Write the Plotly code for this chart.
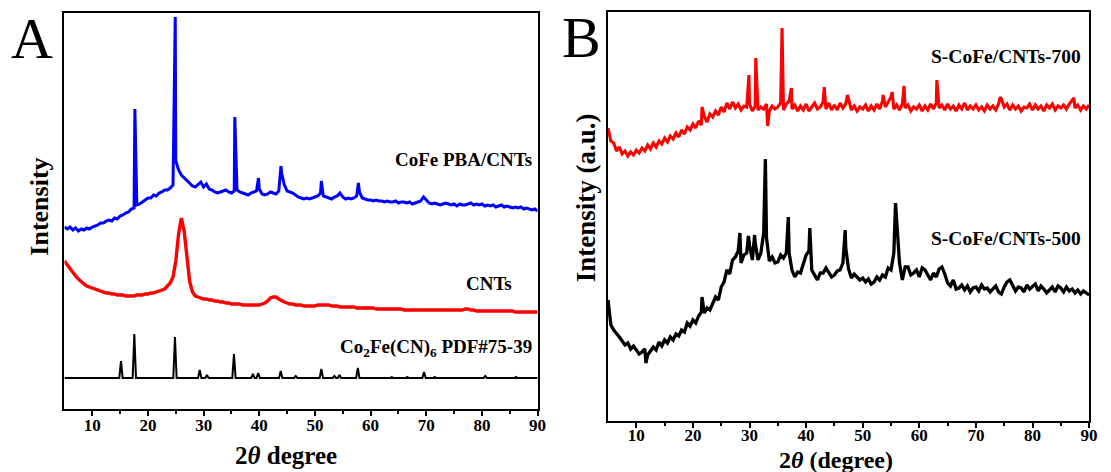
import numpy as np
import plotly.graph_objects as go

W, H = 1111, 472

# Shared 2θ sampling of the measured patterns: 5–90° in 0.5° steps (171 points)
two_theta = np.arange(5.0, 90.01, 0.5)

# ---------------- Panel A (intensities in a.u., curves stacked with offsets) ----------------
# CoFe PBA/CNTs background, one row per 5°
cofe_pba = [
    182, 180, 182, 179, 181, 178, 180, 179, 181, 180,
    182, 183, 184, 186, 186, 188, 189, 188, 191, 190,
    193, 194, 196, 197, 200, 201, 204, 205, 207, 209,
    211, 211, 214, 213, 216, 217, 219, 219, 221, 224,
    248, 239, 234, 231, 229, 226, 223, 222, 225, 227,
    222, 225, 220, 219, 217, 216, 217, 218, 219, 217,
    216, 218, 219, 217, 216, 215, 214, 216, 217, 218,
    220, 215, 214, 215, 217, 216, 215, 218, 236, 224,
    218, 217, 216, 214, 212, 211, 210, 211, 210, 211,
    212, 213, 216, 213, 212, 211, 210, 212, 213, 216,
    212, 210, 211, 210, 211, 213, 217, 211, 210, 209,
    209, 208, 209, 208, 208, 207, 208, 207, 207, 208,
    206, 207, 207, 206, 207, 205, 206, 207, 208, 212,
    209, 206, 205, 206, 205, 204, 205, 206, 205, 204,
    205, 203, 205, 204, 204, 205, 206, 204, 205, 204,
    205, 203, 204, 203, 204, 202, 203, 204, 202, 203,
    202, 201, 202, 201, 202, 200, 201, 200, 199, 200,
    198,
]
cofe_pba_peak_x = [17.65, 24.9, 35.6, 39.85, 43.9, 51.15, 57.8]
cofe_pba_peak_y = [300, 392, 292, 231, 243, 228, 226]

# CNTs
cnts = [
    148, 144, 140, 136, 133, 130, 127, 125, 123, 122,
    121, 120, 119, 118, 117, 116, 116, 115, 115, 114,
    114, 114, 113, 113, 113, 113, 114, 114, 114, 115,
    115, 116, 116, 117, 118, 119, 120, 123, 126, 132,
    148, 175, 191, 178, 148, 127, 117, 113, 112, 111,
    110, 110, 109, 109, 108, 108, 107, 107, 106, 106,
    105, 105, 105, 105, 104, 104, 104, 104, 104, 104,
    104, 105, 106, 108, 111, 112, 112, 110, 108, 107,
    106, 105, 105, 104, 104, 104, 103, 103, 103, 103,
    103, 104, 104, 104, 104, 104, 103, 103, 103, 102,
    102, 102, 102, 102, 102, 101, 101, 101, 101, 101,
    101, 101, 100, 100, 100, 100, 100, 100, 100, 100,
    100, 100, 99, 99, 99, 99, 99, 99, 99, 99,
    99, 99, 99, 99, 99, 99, 99, 99, 99, 99,
    99, 99, 99, 99, 100, 100, 99, 99, 98, 98,
    98, 98, 98, 98, 98, 98, 98, 98, 98, 98,
    98, 98, 97, 97, 97, 97, 97, 97, 97, 97,
    97,
]

# Co2Fe(CN)6 standard pattern, PDF#75-39 (peak positions and intensities)
ref_peak_pos = [15.15, 17.55, 24.85, 29.3, 30.6, 35.45, 38.85, 39.8, 43.85, 46.55,
                51.15, 53.5, 54.4, 57.7, 63.8, 66.6, 69.6, 71.5, 80.6, 86.1]
ref_peak_int = [48, 75, 72, 39, 34, 55, 35, 36, 38, 33,
                40, 33, 34, 41, 32, 32, 37, 32, 33, 32]
ref_baseline = 31

# ---------------- Panel B ----------------
s_cofe_700 = [
    285, 272, 270, 262, 266, 259, 262, 257, 261, 258,
    263, 260, 265, 262, 268, 264, 270, 266, 272, 269,
    275, 271, 277, 274, 280, 276, 283, 279, 286, 283,
    289, 285, 292, 288, 297, 291, 299, 296, 302, 298,
    306, 301, 310, 304, 311, 305, 309, 303, 307, 306,
    309, 302, 307, 303, 306, 304, 309, 302, 307, 304,
    306, 310, 303, 309, 312, 304, 308, 302, 307, 303,
    309, 302, 306, 310, 304, 306, 311, 304, 310, 303,
    308, 303, 310, 305, 309, 314, 303, 307, 302, 306,
    304, 308, 302, 307, 303, 309, 304, 312, 306, 311,
    316, 304, 308, 303, 309, 305, 308, 302, 306, 304,
    308, 302, 307, 303, 309, 304, 310, 305, 308, 303,
    309, 304, 307, 302, 308, 304, 310, 303, 307, 304,
    308, 303, 306, 302, 308, 304, 307, 303, 309, 314,
    306, 309, 303, 308, 304, 307, 302, 306, 305, 309,
    303, 308, 304, 307, 302, 308, 305, 309, 303, 307,
    305, 308, 304, 309, 313, 305, 308, 303, 307, 304,
    308,
]
s_cofe_700_peak_x = [21.6, 29.9, 31.1, 33.2, 35.75, 37.4, 43.2, 47.3, 53.6, 55.2, 57.3, 63.1, 74.3, 87.3]
s_cofe_700_peak_y = [306, 338, 355, 287, 385, 325, 326, 318, 318, 321, 327, 333, 316, 315]

s_cofe_500 = [
    113, 88, 83, 80, 76, 72, 68, 70, 64, 67,
    63, 59, 61, 64, 58, 62, 66, 63, 71, 67,
    73, 70, 76, 73, 79, 77, 83, 81, 90, 87,
    93, 90, 97, 101, 100, 105, 103, 110, 116, 113,
    126, 131, 143, 139, 153, 156, 162, 150, 158, 160,
    168, 153, 170, 153, 160, 180, 175, 152, 156, 150,
    151, 158, 155, 160, 160, 143, 136, 141, 140, 148,
    158, 162, 143, 138, 133, 140, 140, 145, 141, 136,
    138, 142, 143, 150, 165, 144, 135, 139, 136, 133,
    135, 131, 134, 129, 131, 136, 133, 138, 136, 145,
    143, 160, 190, 150, 133, 146, 146, 138, 140, 143,
    136, 145, 143, 138, 133, 140, 136, 144, 146, 139,
    130, 127, 133, 124, 125, 128, 123, 127, 121, 125,
    126, 122, 128, 124, 125, 121, 124, 127, 121, 119,
    126, 131, 133, 128, 122, 126, 125, 121, 128, 124,
    126, 129, 122, 127, 124, 120, 123, 126, 121, 127,
    125, 121, 126, 122, 124, 120, 123, 119, 122, 120,
    118,
]
s_cofe_500_peak_x = [11.7, 21.6, 28.3, 29.8, 30.9, 32.8, 36.85, 40.65, 46.9, 55.8]
s_cofe_500_peak_y = [50, 116, 180, 177, 178, 254, 196, 185, 183, 210]

for series in (cofe_pba, cnts, s_cofe_700, s_cofe_500):
    assert len(series) == len(two_theta)


def with_peaks(values, peak_x, peak_y):
    """Insert sharp reflections between the regular 2θ samples."""
    x = np.concatenate([two_theta, peak_x])
    y = np.concatenate([values, peak_y])
    order = np.argsort(x, kind="stable")
    return x[order], y[order]


def stick_pattern(pos, inten, base, half=0.3):
    """Standard pattern drawn as narrow peaks on a flat baseline."""
    xs, ys = [5.0], [base]
    for p, h in zip(pos, inten):
        xs += [p - half, p, p + half]
        ys += [base, h, base]
    xs.append(90.0)
    ys.append(base)
    return xs, ys


SERIF = "Liberation Serif, Times New Roman, serif"
BLUE, RED, BLACK = "#0000FF", "#FF0000", "#000000"

fig = go.Figure()

x, y = with_peaks(cofe_pba, cofe_pba_peak_x, cofe_pba_peak_y)
fig.add_trace(go.Scatter(x=x, y=y, mode="lines", line=dict(color=BLUE, width=3),
                         xaxis="x", yaxis="y", name="CoFe PBA/CNTs"))
fig.add_trace(go.Scatter(x=two_theta, y=cnts, mode="lines", line=dict(color=RED, width=3.4),
                         xaxis="x", yaxis="y", name="CNTs"))
x, y = stick_pattern(ref_peak_pos, ref_peak_int, ref_baseline)
fig.add_trace(go.Scatter(x=x, y=y, mode="lines", line=dict(color=BLACK, width=2),
                         xaxis="x", yaxis="y", name="PDF#75-39"))

x, y = with_peaks(s_cofe_700, s_cofe_700_peak_x, s_cofe_700_peak_y)
fig.add_trace(go.Scatter(x=x, y=y, mode="lines", line=dict(color=RED, width=3.1),
                         xaxis="x2", yaxis="y2", name="S-CoFe/CNTs-700"))
x, y = with_peaks(s_cofe_500, s_cofe_500_peak_x, s_cofe_500_peak_y)
fig.add_trace(go.Scatter(x=x, y=y, mode="lines", line=dict(color=BLACK, width=3.3),
                         xaxis="x2", yaxis="y2", name="S-CoFe/CNTs-500"))

tick_font = dict(family=SERIF, size=17, color=BLACK, weight="bold")
major = list(range(10, 91, 10))
minor = list(range(15, 90, 10))


def x_axis(domain, anchor, standoff):
    return dict(domain=domain, anchor=anchor, range=[5, 90], tickvals=major,
                ticks="outside", ticklen=5, tickwidth=2, tickcolor=BLACK,
                ticklabelstandoff=standoff,
                minor=dict(tickvals=minor, ticks="outside", ticklen=3, tickwidth=2, tickcolor=BLACK),
                showline=True, linewidth=2, linecolor=BLACK, mirror=True,
                showgrid=False, zeroline=False, tickfont=tick_font)


def y_axis(domain, anchor, rng):
    return dict(domain=domain, anchor=anchor, range=rng, showticklabels=False,
                ticks="", showline=True, linewidth=2, linecolor=BLACK, mirror=True,
                showgrid=False, zeroline=False)


fig.update_layout(
    width=W, height=H, margin=dict(l=0, r=0, t=0, b=0),
    paper_bgcolor="white", plot_bgcolor="white", showlegend=False,
    xaxis=x_axis([65 / W, 542 / W], "y", -5),
    yaxis=y_axis([1 - 409 / H, 1 - 13 / H], "x", [0, 396]),
    xaxis2=x_axis([613 / W, 1098 / W], "y2", -7),
    yaxis2=y_axis([1 - 421 / H, 1 - 12 / H], "x2", [-8, 401]),
)


def text(x_px, y_px, s, size, anchor="center", angle=0, bold=True):
    fig.add_annotation(x=x_px / W, y=1 - y_px / H, xref="paper", yref="paper",
                       text=f"<b>{s}</b>" if bold else s, showarrow=False,
                       xanchor=anchor, yanchor="middle", textangle=angle,
                       font=dict(family=SERIF, size=size, color=BLACK))


# panel letters
text(32, 38, "A", 58, bold=False)
text(586, 37, "B", 58, bold=False)

# axis titles
text(288, 455, "2<i>θ</i> degree", 25)
text(843, 460, "2<i>θ</i> (degree)", 24)
text(39, 207, "Intensity", 26, angle=-90)
text(591, 198, "Intensity (a.u.)", 27, angle=-90)

# curve labels
text(538, 159, "CoFe PBA/CNTs", 19, anchor="right")
text(518, 283, "CNTs", 19, anchor="right")
text(538, 348, "Co<sub>2</sub>Fe(CN)<sub>6</sub> PDF#75-39", 19, anchor="right")
text(1092, 56, "S-CoFe/CNTs-700", 19.5, anchor="right")
text(1092, 238, "S-CoFe/CNTs-500", 19.5, anchor="right")

fig.write_html("out.html")
